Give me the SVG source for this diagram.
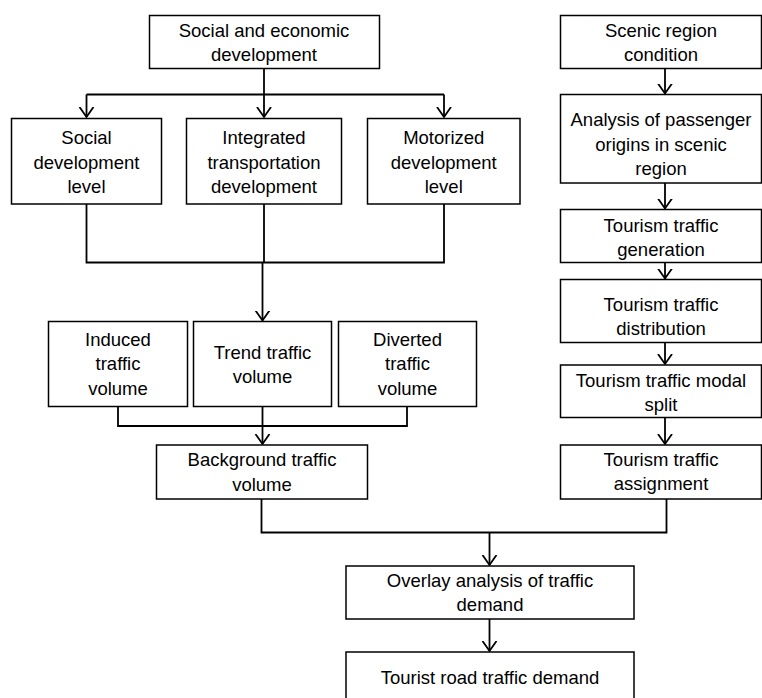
<svg xmlns="http://www.w3.org/2000/svg" width="762" height="698" viewBox="0 0 762 698">
<style>
.box{fill:#fff;stroke:#000;stroke-width:1.5}
.t{font-family:"Liberation Sans",Arial,sans-serif;font-size:18.5px;fill:#000;text-anchor:middle}
.c{fill:none;stroke:#000;stroke-width:1.8}
</style>
<defs>
<marker id="ah" markerUnits="userSpaceOnUse" markerWidth="20" markerHeight="20" refX="10" refY="10" orient="auto">
<path d="M0,3 L10,10 L0,17" fill="none" stroke="#000" stroke-width="1.8"/>
</marker>
</defs>
<rect width="762" height="698" fill="#fff"/>
<g id="connectors">
<path class="c" d="M264,68 V94.5"/>
<path class="c" d="M86.5,94.5 H444"/>
<path class="c" d="M86.5,94.5 V117" marker-end="url(#ah)"/>
<path class="c" d="M264,94.5 V117" marker-end="url(#ah)"/>
<path class="c" d="M444,94.5 V117" marker-end="url(#ah)"/>
<path class="c" d="M86.5,204 V262.5 H444 V204"/>
<path class="c" d="M264,204 V262.5"/>
<path class="c" d="M262.5,262.5 V320.5" marker-end="url(#ah)"/>
<path class="c" d="M118,406.5 V426 H407 V406.5"/>
<path class="c" d="M262.5,406.5 V426"/>
<path class="c" d="M262.5,426 V444" marker-end="url(#ah)"/>
<path class="c" d="M665,68.5 V93.5" marker-end="url(#ah)"/>
<path class="c" d="M665,183 V208.5" marker-end="url(#ah)"/>
<path class="c" d="M665,262.5 V278.5" marker-end="url(#ah)"/>
<path class="c" d="M665,342.5 V364" marker-end="url(#ah)"/>
<path class="c" d="M665,417.5 V444" marker-end="url(#ah)"/>
<path class="c" d="M261.5,499 V532.5 H666.5 V499"/>
<path class="c" d="M489.5,532.5 V565" marker-end="url(#ah)"/>
<path class="c" d="M489.5,619 V651" marker-end="url(#ah)"/>
</g>
<g id="n-social-economic">
<rect class="box" x="149.5" y="15.5" width="230" height="53"/>
<text class="t" x="264" y="36.5">Social and economic</text>
<text class="t" x="264" y="61">development</text>
</g>
<g id="n-social-level">
<rect class="box" x="11.5" y="118.5" width="150" height="85.5"/>
<text class="t" x="86.5" y="144">Social</text>
<text class="t" x="86.5" y="168.5">development</text>
<text class="t" x="86.5" y="193">level</text>
</g>
<g id="n-integrated">
<rect class="box" x="186.5" y="118.5" width="155" height="85.5"/>
<text class="t" x="264" y="144">Integrated</text>
<text class="t" x="264" y="168.5">transportation</text>
<text class="t" x="264" y="193">development</text>
</g>
<g id="n-motorized">
<rect class="box" x="367.5" y="118.5" width="152.5" height="85.5"/>
<text class="t" x="443.75" y="144">Motorized</text>
<text class="t" x="443.75" y="168.5">development</text>
<text class="t" x="443.75" y="193">level</text>
</g>
<g id="n-induced">
<rect class="box" x="48.5" y="321.5" width="139" height="85"/>
<text class="t" x="118" y="345.5">Induced</text>
<text class="t" x="118" y="370">traffic</text>
<text class="t" x="118" y="394.5">volume</text>
</g>
<g id="n-trend">
<rect class="box" x="193.5" y="321.5" width="138" height="85"/>
<text class="t" x="262.5" y="358.5">Trend traffic</text>
<text class="t" x="262.5" y="383">volume</text>
</g>
<g id="n-diverted">
<rect class="box" x="338.5" y="321.5" width="138" height="85"/>
<text class="t" x="407.5" y="345.5">Diverted</text>
<text class="t" x="407.5" y="370">traffic</text>
<text class="t" x="407.5" y="394.5">volume</text>
</g>
<g id="n-background">
<rect class="box" x="156.5" y="445" width="211" height="54"/>
<text class="t" x="262" y="466">Background traffic</text>
<text class="t" x="262" y="490.5">volume</text>
</g>
<g id="n-scenic">
<rect class="box" x="560.5" y="15.5" width="201" height="53"/>
<text class="t" x="661" y="36.5">Scenic region</text>
<text class="t" x="661" y="61">condition</text>
</g>
<g id="n-analysis">
<rect class="box" x="560.5" y="94.5" width="201" height="88.5"/>
<text class="t" x="661" y="126">Analysis of passenger</text>
<text class="t" x="661" y="150.5">origins in scenic</text>
<text class="t" x="661" y="175">region</text>
</g>
<g id="n-generation">
<rect class="box" x="560.5" y="209.5" width="201" height="53"/>
<text class="t" x="661" y="231.5">Tourism traffic</text>
<text class="t" x="661" y="256">generation</text>
</g>
<g id="n-distribution">
<rect class="box" x="560.5" y="279.5" width="201" height="63"/>
<text class="t" x="661" y="310.5">Tourism traffic</text>
<text class="t" x="661" y="335">distribution</text>
</g>
<g id="n-modal">
<rect class="box" x="560.5" y="365" width="201" height="52.5"/>
<text class="t" x="661" y="387">Tourism traffic modal</text>
<text class="t" x="661" y="411">split</text>
</g>
<g id="n-assignment">
<rect class="box" x="560.5" y="445" width="201" height="54"/>
<text class="t" x="661" y="466">Tourism traffic</text>
<text class="t" x="661" y="490">assignment</text>
</g>
<g id="n-overlay">
<rect class="box" x="346" y="566" width="288" height="53"/>
<text class="t" x="490" y="587">Overlay analysis of traffic</text>
<text class="t" x="490" y="611">demand</text>
</g>
<g id="n-tourist">
<rect class="box" x="346" y="652" width="288" height="60"/>
<text class="t" x="490" y="683.5">Tourist road traffic demand</text>
</g>
</svg>
